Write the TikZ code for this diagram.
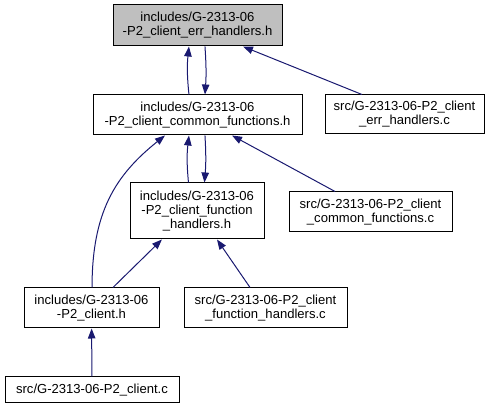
\documentclass[tikz,border=0pt]{standalone}
\usepackage{fontspec}
\setmainfont{Liberation Sans}
\usetikzlibrary{arrows.meta}
\definecolor{depB}{RGB}{25,25,112}
\definecolor{curG}{RGB}{191,191,191}

\begin{document}
\begin{tikzpicture}[x=0.75pt,y=-0.75pt,font=\fontsize{9.8}{10.5}\selectfont]
  \tikzset{fbox/.style={draw=black,line width=0.75pt,fill=white,align=center,inner sep=0pt,minimum width=#1,minimum height=30pt},
    dep/.style={-{Triangle[length=7.5pt,width=5.6pt]},line width=0.75pt,depB}}
  \useasboundingbox (0,0) rectangle (493,409);
  \node[fbox=126.75pt,minimum height=30.75pt,fill=curG] (errh) at (197.5,25.5) {includes/G-2313-06\\-P2\_client\_err\_handlers.h};
  \node[fbox=156.75pt] (comh) at (197.5,115) {includes/G-2313-06\\-P2\_client\_common\_functions.h};
  \node[fbox=119.25pt,minimum height=29.25pt] (errc) at (404.5,114.5) {src/G-2313-06-P2\_client\\\_err\_handlers.c};
  \node[fbox=100.5pt,minimum height=42pt] (funh) at (197,211) {includes/G-2313-06\\-P2\_client\_function\\\_handlers.h};
  \node[fbox=122.25pt] (comc) at (370.5,212) {src/G-2313-06-P2\_client\\\_common\_functions.c};
  \node[fbox=101.25pt] (clih) at (91.5,308) {includes/G-2313-06\\-P2\_client.h};
  \node[fbox=122.25pt] (func) at (265.5,308) {src/G-2313-06-P2\_client\\\_function\_handlers.c};
  \node[fbox=130.5pt,minimum height=19.5pt] (clic) at (92,390) {src/G-2313-06-P2\_client.c};
  % include edges, arrow at the included header
  \draw[dep] ([xshift=-6.4pt]comh.north) to[bend left=6] ([xshift=-6.4pt]errh.south);
  \draw[dep] ([xshift=5.6pt]errh.south) to[bend left=4] ([xshift=5.6pt]comh.north);
  \draw[dep] ([xshift=-31.9pt]errc.north) -- ([xshift=34.1pt]errh.south);
  \draw[dep] ([xshift=-6.4pt]funh.north) to[bend left=6] ([xshift=-6.4pt]comh.south);
  \draw[dep] ([xshift=5.6pt]comh.south) to[bend left=4] ([xshift=5.6pt]funh.north);
  \draw[dep] ([xshift=-26.6pt]comc.north) -- ([xshift=25.9pt]comh.south);
  \draw[dep] ([xshift=0.4pt]clih.north) .. controls +(0,-75) and +(-50,40) .. ([xshift=-24.4pt]comh.south);
  \draw[dep] ([xshift=16.1pt]clih.north) -- ([xshift=-26.3pt]funh.south);
  \draw[dep] ([xshift=-11.6pt]func.north) -- ([xshift=15pt]funh.south);
  \draw[dep] (clic) -- (clih);
\end{tikzpicture}
\end{document}
